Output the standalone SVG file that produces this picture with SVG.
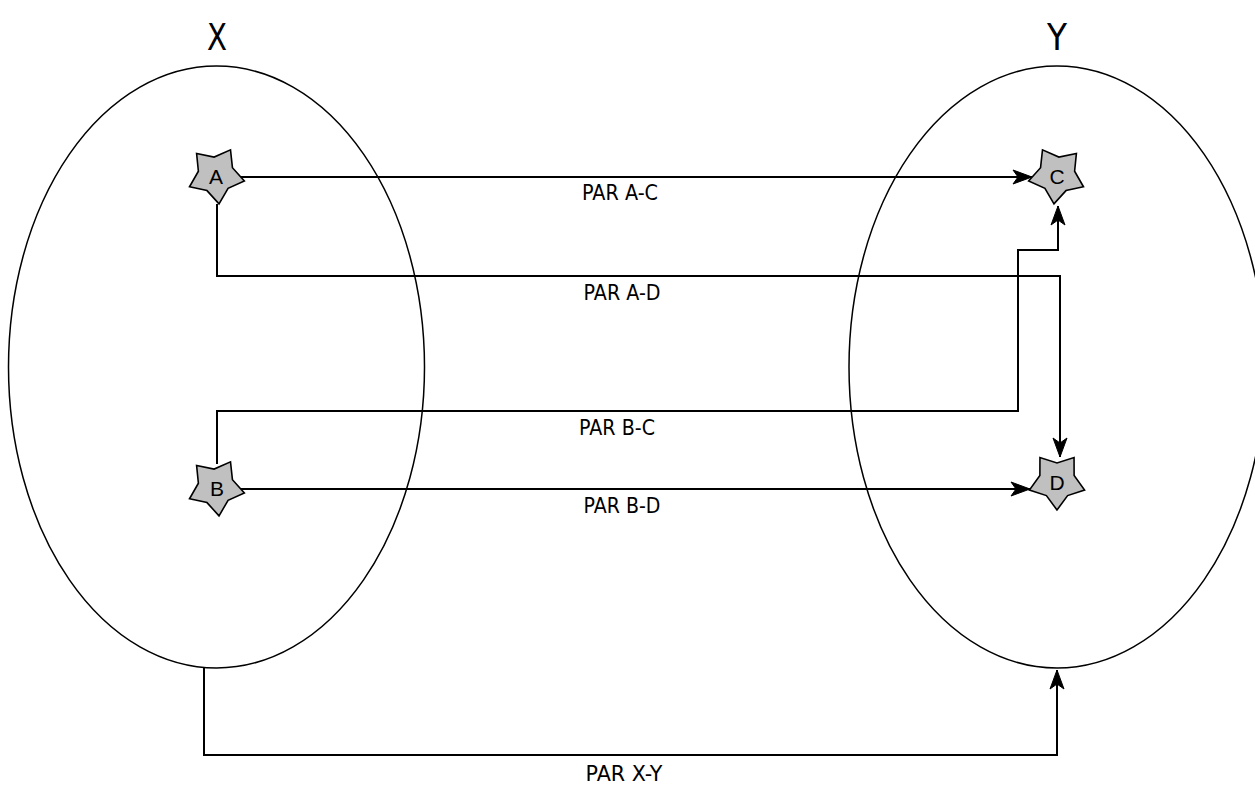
<svg xmlns="http://www.w3.org/2000/svg" xmlns:xlink="http://www.w3.org/1999/xlink" width="1255" height="785" viewBox="0 0 1255 785">
  <style>
    .set { fill: none; stroke: #000; stroke-width: 1.5; }
    .star { fill: #c0c0c0; stroke: #000; stroke-width: 1.6; stroke-linejoin: miter; }
    .edge { fill: none; stroke: #000; stroke-width: 2; }
    .title { font-family: "DejaVu Sans", sans-serif; font-size: 37px; text-anchor: middle; fill: #000; }
    .name { font-family: "Liberation Sans", Arial, sans-serif; font-size: 21px; text-anchor: middle; fill: #000; }
    .lbl { font-family: "DejaVu Sans", sans-serif; font-size: 22px; text-anchor: middle; fill: #000; }
  </style>
  <defs>
    <polygon id="starShape" points="0,29 -10.6,14.56 -27.58,8.96 -17.12,-5.56 -17.05,-23.46 0,-18 17.05,-23.46 17.12,-5.56 27.58,8.96 10.6,14.56"/>
    <marker id="arrow" markerUnits="userSpaceOnUse" markerWidth="24" markerHeight="20" viewBox="-20 -10 24 20" refX="0" refY="0" orient="auto">
      <path d="M0,0 L-19,-7 L-14,0 L-19,7 Z" fill="#000" stroke="#000" stroke-width="1"/>
    </marker>
  </defs>

  <!-- sets -->
  <g id="set-x">
    <ellipse class="set" cx="216.5" cy="367" rx="208" ry="301"/>
    <text class="title" x="217" y="50" textLength="20" lengthAdjust="spacingAndGlyphs">X</text>
  </g>
  <g id="set-y">
    <ellipse class="set" cx="1057" cy="367" rx="208" ry="301"/>
    <text class="title" x="1057" y="50" textLength="20" lengthAdjust="spacingAndGlyphs">Y</text>
  </g>

  <!-- connectors -->
  <g id="connectors">
    <polyline class="edge" points="240,177 1032,177" marker-end="url(#arrow)"/>
    <polyline class="edge" points="217,204 217,276 1060,276 1060,457" marker-end="url(#arrow)"/>
    <polyline class="edge" points="217,464 217,411 1018,411 1018,250 1058,250 1058,206" marker-end="url(#arrow)"/>
    <polyline class="edge" points="240,489 1030,489" marker-end="url(#arrow)"/>
    <polyline class="edge" points="204,668 204,755 1057,755 1057,670" marker-end="url(#arrow)"/>
    <text class="lbl" x="620" y="200" textLength="76" lengthAdjust="spacingAndGlyphs">PAR A-C</text>
    <text class="lbl" x="622" y="300" textLength="77" lengthAdjust="spacingAndGlyphs">PAR A-D</text>
    <text class="lbl" x="617" y="435" textLength="76" lengthAdjust="spacingAndGlyphs">PAR B-C</text>
    <text class="lbl" x="622" y="513" textLength="77" lengthAdjust="spacingAndGlyphs">PAR B-D</text>
    <text class="lbl" x="624" y="781" textLength="77" lengthAdjust="spacingAndGlyphs">PAR X-Y</text>
  </g>

  <!-- elements -->
  <g id="node-a">
    <use xlink:href="#starShape" class="star" transform="translate(216,175) rotate(-6)"/>
    <text class="name" x="216" y="184">A</text>
  </g>
  <g id="node-b">
    <use xlink:href="#starShape" class="star" transform="translate(216,487) rotate(-6)"/>
    <text class="name" x="217" y="496">B</text>
  </g>
  <g id="node-c">
    <use xlink:href="#starShape" class="star" transform="translate(1057,175) rotate(6)"/>
    <text class="name" x="1057" y="184">C</text>
  </g>
  <g id="node-d">
    <use xlink:href="#starShape" class="star" transform="translate(1057,481)"/>
    <text class="name" x="1057" y="490">D</text>
  </g>
</svg>
